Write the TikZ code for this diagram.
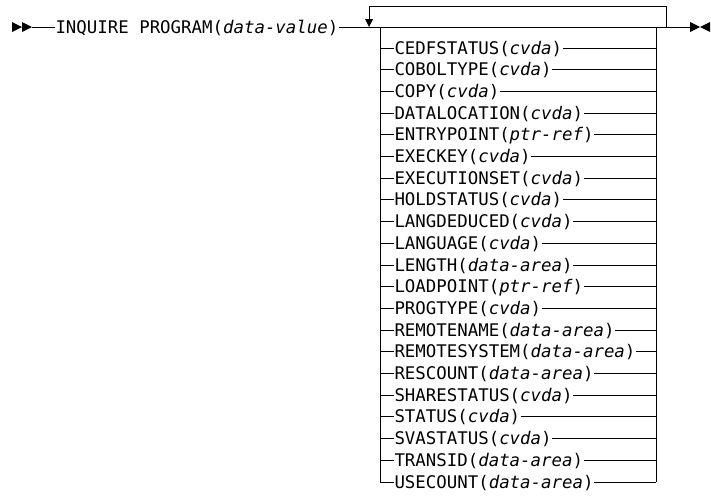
\documentclass[tikz,border=0pt]{standalone}
\usepackage{fontspec}
\setmainfont{DejaVu Sans Mono}
\begin{document}
\begin{tikzpicture}[x=1pt,y=-1pt,line width=1pt,
  lbl/.style={anchor=base west,inner xsep=0pt,inner ysep=1pt,font=\fontsize{17.4}{20}\selectfont},
  rail/.style={draw=black,line width=1pt}]
\useasboundingbox (0,0) rectangle (711,496);
% start marker
\fill (12,22) -- (22,27) -- (12,32) -- cycle;
\fill (22,22) -- (32,27) -- (22,32) -- cycle;
\coordinate (s) at (32,27);
\node[lbl] (main) at (55,33) {INQUIRE PROGRAM(\textit{data-value})};
\coordinate (e) at (690,27);
\draw[rail] (s) -- (s -| main.west);
\draw[rail] (main.east |- s) -- (e);
% end marker
\fill (690,22) -- (700,27) -- (690,32) -- cycle;
\fill (710,22) -- (700,27) -- (710,32) -- cycle;
% repeat loop
\coordinate (la) at (369,27);
\coordinate (lb) at (369,6);
\coordinate (rb) at (666,6);
\coordinate (ra) at (666,27);
\draw[rail] (ra) -- (rb) -- (lb) -- (369,19);
\fill (365,19) -- (373,19) -- (la) -- cycle;
% option box
\coordinate (L0) at (380,27);
\coordinate (R0) at (656,27);
\foreach \k/\a [count=\i from 0] in {CEDFSTATUS/cvda,COBOLTYPE/cvda,COPY/cvda,DATALOCATION/cvda,ENTRYPOINT/ptr-ref,EXECKEY/cvda,EXECUTIONSET/cvda,HOLDSTATUS/cvda,LANGDEDUCED/cvda,LANGUAGE/cvda,LENGTH/data-area,LOADPOINT/ptr-ref,PROGTYPE/cvda,REMOTENAME/data-area,REMOTESYSTEM/data-area,RESCOUNT/data-area,SHARESTATUS/cvda,STATUS/cvda,SVASTATUS/cvda,TRANSID/data-area,USECOUNT/data-area}{
  \pgfmathsetmacro{\yy}{48+21.7*\i}
  \coordinate (l\i) at (380,\yy);
  \coordinate (r\i) at (656,\yy);
  \node[lbl] (t\i) at (394,\yy+6) {\k(\textit{\a})};
  \draw[rail] (l\i) -- (l\i -| t\i.west);
  \draw[rail] (t\i.east |- r\i) -- (r\i);
}
\draw[rail] (L0) -- (l20);
\draw[rail] (R0) -- (r20);
\end{tikzpicture}
\end{document}
